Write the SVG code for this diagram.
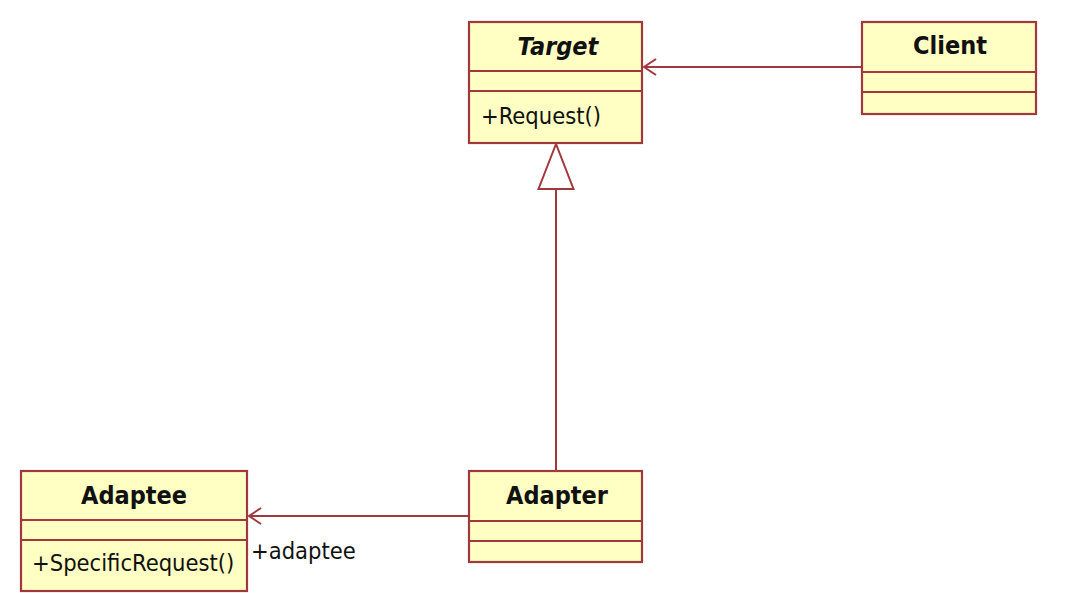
<svg xmlns="http://www.w3.org/2000/svg" width="1067" height="593" viewBox="0 0 1067 593">
<style>
.box{fill:#ffffc4;stroke:#a0393d;stroke-width:2.2}
.div{stroke:#a0393d;stroke-width:2.2}
.conn{stroke:#a0393d;stroke-width:2;fill:none}
.t{font-family:"DejaVu Sans Condensed","DejaVu Sans",sans-serif;font-size:23.5px;fill:#111}
.h{font-weight:bold;text-anchor:middle;font-size:25px}
</style>
<rect width="1067" height="593" fill="#ffffff"/>
<g id="connectors">
<line class="conn" x1="862" y1="67" x2="644" y2="67"/>
<path class="conn" d="M656,59 L644,67 L656,75"/>
<line class="conn" x1="469" y1="516" x2="249" y2="516"/>
<path class="conn" d="M261,508 L249,516 L261,524"/>
<line class="conn" x1="556" y1="471" x2="556" y2="189"/>
<path class="conn" d="M556,144 L538.5,189 L573.5,189 Z" fill="#ffffff"/>
</g>
<g id="Target">
<rect class="box" x="469" y="22" width="173" height="121"/>
<line class="div" x1="469" y1="71" x2="642" y2="71"/>
<line class="div" x1="469" y1="91" x2="642" y2="91"/>
<text class="t h" x="558" y="55" font-style="italic">Target</text>
<text class="t" x="481" y="124">+Request()</text>
</g>
<g id="Client">
<rect class="box" x="862" y="22" width="174" height="92"/>
<line class="div" x1="862" y1="72" x2="1036" y2="72"/>
<line class="div" x1="862" y1="92" x2="1036" y2="92"/>
<text class="t h" x="950" y="54">Client</text>
</g>
<g id="Adaptee">
<rect class="box" x="21" y="471" width="226" height="120"/>
<line class="div" x1="21" y1="520" x2="247" y2="520"/>
<line class="div" x1="21" y1="540" x2="247" y2="540"/>
<text class="t h" x="134" y="504">Adaptee</text>
<text class="t" x="32" y="571">+SpecificRequest()</text>
</g>
<g id="Adapter">
<rect class="box" x="469" y="471" width="173" height="91"/>
<line class="div" x1="469" y1="521" x2="642" y2="521"/>
<line class="div" x1="469" y1="541" x2="642" y2="541"/>
<text class="t h" x="557" y="504">Adapter</text>
</g>
<text class="t" x="251" y="559">+adaptee</text>
</svg>
